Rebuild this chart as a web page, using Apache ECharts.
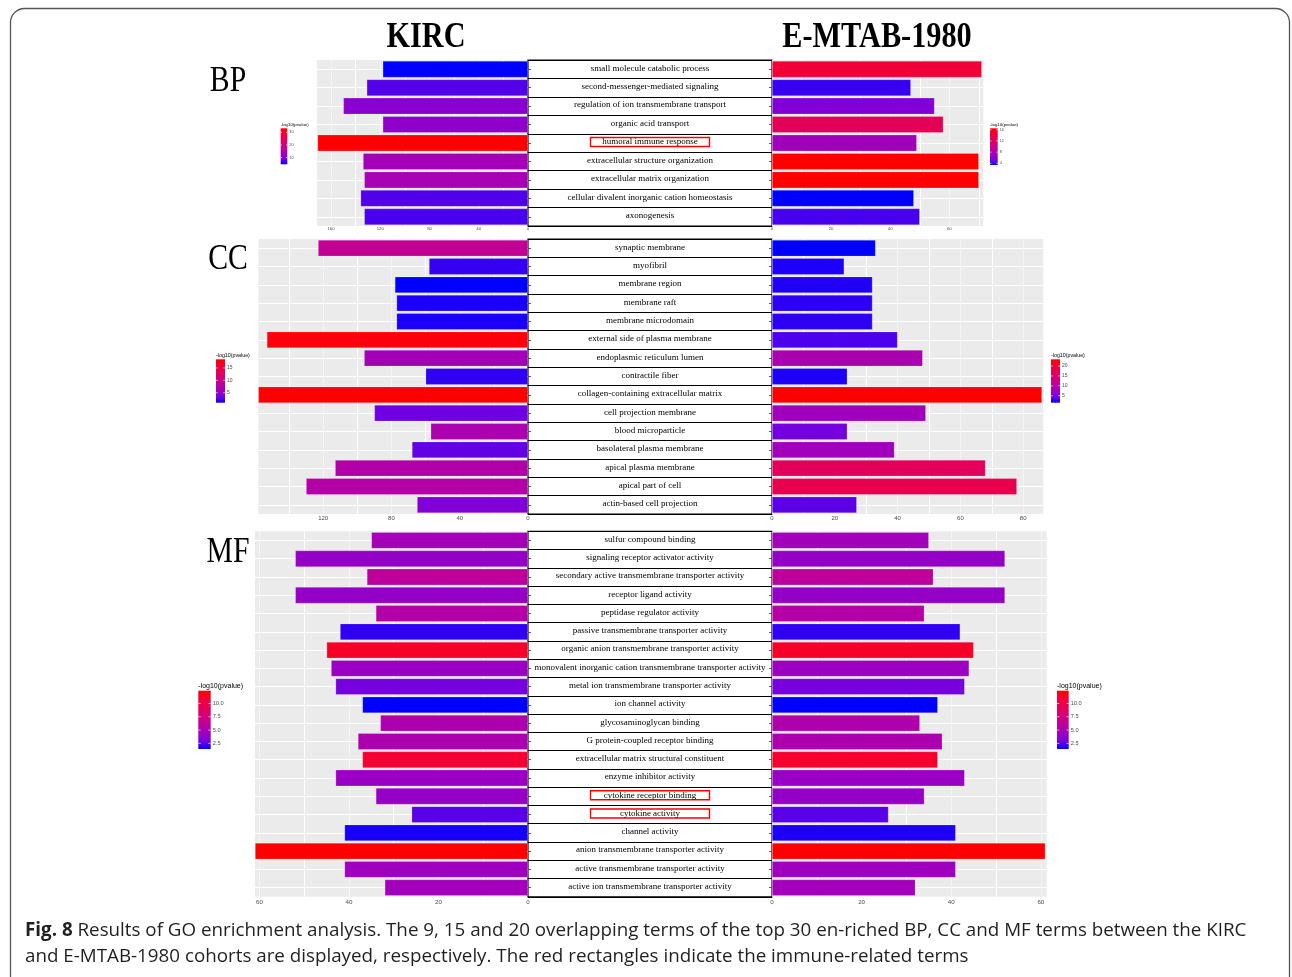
<!DOCTYPE html>
<html><head><meta charset="utf-8">
<script src="https://cdn.jsdelivr.net/npm/echarts@6/dist/echarts.min.js"></script>
<style>html,body{margin:0;padding:0;background:#fff;}#c{width:1292px;height:977px;}</style>
</head><body><div id="c"></div>
<script>
// ---------------- DATA ----------------
const BP_terms = ['small molecule catabolic process','second-messenger-mediated signaling','regulation of ion transmembrane transport','organic acid transport','humoral immune response','extracellular structure organization','extracellular matrix organization','cellular divalent inorganic cation homeostasis','axonogenesis'];
const BP_KIRC_value = [118, 131, 150, 118, 171, 134, 133, 136, 133];
const BP_KIRC_logp  = [4.7, 7.3, 10.4, 11.0, 33.2, 13.2, 13.5, 7.2, 7.0];
const BP_EMTAB_value = [71, 47, 55, 58, 49, 70, 70, 48, 50];
const BP_EMTAB_logp  = [14.5, 4.2, 5.6, 12.8, 7.1, 16.5, 16.5, 3.4, 4.4];
const BP_KIRC_axisTicks = [0, 40, 80, 120, 160];
const BP_EMTAB_axisTicks = [0, 20, 40, 60];
const BP_KIRC_legendTicks = [10, 20, 30];
const BP_EMTAB_legendTicks = [4, 8, 12, 16];

const CC_terms = ['synaptic membrane','myofibril','membrane region','membrane raft','membrane microdomain','external side of plasma membrane','endoplasmic reticulum lumen','contractile fiber','collagen-containing extracellular matrix','cell projection membrane','blood microparticle','basolateral plasma membrane','apical plasma membrane','apical part of cell','actin-based cell projection'];
const CC_KIRC_value = [123, 58, 78, 77, 77, 153, 96, 60, 158, 90, 57, 68, 113, 130, 65];
const CC_KIRC_logp  = [8.9, 2.0, 1.0, 1.5, 1.5, 18.0, 6.2, 1.9, 18.5, 3.1, 6.9, 2.9, 7.3, 7.5, 4.0];
const CC_EMTAB_value = [33, 23, 32, 32, 32, 40, 48, 24, 86, 49, 24, 39, 68, 78, 27];
const CC_EMTAB_logp  = [1.5, 2.2, 2.3, 2.6, 2.6, 3.3, 8.7, 2.2, 23.4, 7.6, 4.3, 7.6, 16.8, 17.9, 3.7];
const CC_KIRC_axisTicks = [0, 40, 80, 120];
const CC_EMTAB_axisTicks = [0, 20, 40, 60, 80];
const CC_KIRC_legendTicks = [5, 10, 15];
const CC_EMTAB_legendTicks = [5, 10, 15, 20];

const MF_terms = ['sulfur compound binding','signaling receptor activator activity','secondary active transmembrane transporter activity','receptor ligand activity','peptidase regulator activity','passive transmembrane transporter activity','organic anion transmembrane transporter activity','monovalent inorganic cation transmembrane transporter activity','metal ion transmembrane transporter activity','ion channel activity','glycosaminoglycan binding','G protein-coupled receptor binding','extracellular matrix structural constituent','enzyme inhibitor activity','cytokine receptor binding','cytokine activity','channel activity','anion transmembrane transporter activity','active transmembrane transporter activity','active ion transmembrane transporter activity'];
const MF_KIRC_value = [35, 52, 36, 52, 34, 42, 45, 44, 43, 37, 33, 38, 37, 43, 34, 26, 41, 61, 41, 32];
const MF_KIRC_logp  = [4.7, 4.0, 6.0, 4.0, 5.5, 2.0, 11.3, 4.2, 2.9, 1.44, 5.1, 5.1, 11.0, 4.2, 4.0, 2.5, 1.7, 12.4, 4.4, 4.6];
const MF_EMTAB_value = [35, 52, 36, 52, 34, 42, 45, 44, 43, 37, 33, 38, 37, 43, 34, 26, 41, 61, 41, 32];
const MF_EMTAB_logp  = [4.6, 4.0, 6.0, 4.0, 5.5, 2.0, 11.3, 4.3, 2.9, 1.44, 5.2, 5.1, 11.1, 4.2, 4.0, 2.5, 1.8, 12.4, 4.4, 4.6];
const MF_axisTicks = [0, 20, 40, 60];
const MF_legendTicks = [2.5, 5.0, 7.5, 10.0];
const MF_legendLabels = ['2.5', '5.0', '7.5', '10.0'];

const immune_terms = ['humoral immune response', 'cytokine receptor binding', 'cytokine activity'];
const cohortTitles = ['KIRC', 'E-MTAB-1980'];
const legendTitle = '-log10(pvalue)';
const captionLine1 = ' Results of GO enrichment analysis. The 9, 15 and 20 overlapping terms of the top 30 en-riched BP, CC and MF terms between the KIRC';
const captionLine2 = 'and E-MTAB-1980 cohorts are displayed, respectively. The red rectangles indicate the immune-related terms';

// ---------------- STYLE / LAYOUT ----------------
const STOPS = ['#0000FF','#7300E0','#9A00C3','#B500A5','#CA0089','#DA006C','#E8004F','#F40031','#FF0000'];
const panels = [
  {name:'BP', terms:BP_terms,
   L:{v:BP_KIRC_value, p:BP_KIRC_logp, ticks:BP_KIRC_axisTicks, lt:BP_KIRC_legendTicks, ll:BP_KIRC_legendTicks.map(String)},
   R:{v:BP_EMTAB_value, p:BP_EMTAB_logp, ticks:BP_EMTAB_axisTicks, lt:BP_EMTAB_legendTicks, ll:BP_EMTAB_legendTicks.map(String)}},
  {name:'CC', terms:CC_terms,
   L:{v:CC_KIRC_value, p:CC_KIRC_logp, ticks:CC_KIRC_axisTicks, lt:CC_KIRC_legendTicks, ll:CC_KIRC_legendTicks.map(String)},
   R:{v:CC_EMTAB_value, p:CC_EMTAB_logp, ticks:CC_EMTAB_axisTicks, lt:CC_EMTAB_legendTicks, ll:CC_EMTAB_legendTicks.map(String)}},
  {name:'MF', terms:MF_terms,
   L:{v:MF_KIRC_value, p:MF_KIRC_logp, ticks:MF_axisTicks, lt:MF_legendTicks, ll:MF_legendLabels},
   R:{v:MF_EMTAB_value, p:MF_EMTAB_logp, ticks:MF_axisTicks, lt:MF_legendTicks, ll:MF_legendLabels}}
];
const geom = [
  {top:60, h:166, lx:317, rx:983.3, maxL:171.4, maxR:71.5, axFont:4.3, axMargin:0.8, lgFont:3.8, lgTitle:4.4,
   legL:[280.7,128.3,6.6,36], legR:[990,128.3,7.7,36.7], label:[228,81.5]},
  {top:239, h:275, lx:258.3, rx:1043.3, maxL:158, maxR:86.4, axFont:6, axMargin:1, lgFont:5, lgTitle:5.3,
   legL:[216,359.3,9,43.4], legR:[1051,359.3,9,43.4], label:[228,259.5]},
  {top:531.3, h:365.5, lx:255, rx:1046.7, maxL:61, maxR:61.3, axFont:6.2, axMargin:2, lgFont:5.7, lgTitle:7,
   legL:[198.3,690.7,12.4,58.3], legR:[1057,690.7,11.7,58.3], label:[228,552.5]}
];
const CX0 = 528, CX1 = 772;

const grids = [], xAxes = [], yAxes = [], series = [], vms = [], graphics = [];

function valueAxis(gi, inverse, max, ticks, font, margin) {
  const step = (ticks[1] - ticks[0]) / 2;
  return {type:'value', gridIndex:gi, inverse, min:0, max, interval:step,
    axisLine:{show:false}, axisTick:{show:false},
    axisLabel:{fontSize:font, color:'#4D4D4D', margin, fontFamily:'Liberation Sans',
      formatter: v => ticks.indexOf(v) >= 0 ? String(v) : ''},
    splitLine:{show:true, showMinLine:false, showMaxLine:false, lineStyle:{color:['#FFFFFF','#F5F5F5'], width:1}}};
}
function catAxis(gi, terms, pos) {
  return {type:'category', gridIndex:gi, data:terms, inverse:true, position:pos,
    axisLine:{show:false},
    axisTick:{show:true, alignWithLabel:true, length:3, lineStyle:{color:'#333', width:0.8}},
    axisLabel:{show:false},
    splitLine:{show:true, alignWithLabel:true, lineStyle:{color:'#FFFFFF', width:1}}};
}
function addBar(gi, S, terms) {
  series.push({type:'bar', xAxisIndex:gi, yAxisIndex:gi, barWidth:'90%', silent:true, animation:false,
    data: terms.map((t, i) => [S.v[i], t, S.p[i]]), encode:{x:0, y:1},
    itemStyle:{borderColor:'rgba(255,255,255,0.35)', borderWidth:0.6}});
  vms.push({type:'continuous', show:false, seriesIndex:series.length - 1, dimension:2,
    min:Math.min(...S.p), max:Math.max(...S.p), inRange:{color:STOPS}});
}
function addLegend(S, box, G) {
  const [x, y, w, h] = box;
  const mn = Math.min(...S.p), mx = Math.max(...S.p);
  graphics.push({type:'text', x:x, y:y - 1.2, silent:true,
    style:{text:legendTitle, fontSize:G.lgTitle, fontFamily:'Liberation Sans', fill:'#000', align:'left', verticalAlign:'bottom'}});
  graphics.push({type:'rect', silent:true, shape:{x, y, width:w, height:h},
    style:{fill:new echarts.graphic.LinearGradient(0, 0, 0, 1,
      STOPS.slice().reverse().map((c, i) => ({offset:i / (STOPS.length - 1), color:c})))}});
  S.lt.forEach((t, i) => {
    const ty = y + (mx - t) / (mx - mn) * h;
    graphics.push({type:'text', x:x + w + 2, y:ty, silent:true,
      style:{text:S.ll[i], fontSize:G.lgFont, fontFamily:'Liberation Sans', fill:'#4D4D4D', align:'left', verticalAlign:'middle'}});
    graphics.push({type:'line', silent:true, shape:{x1:x, y1:ty, x2:x + w * 0.2, y2:ty}, style:{stroke:'#fff', lineWidth:0.6}});
    graphics.push({type:'line', silent:true, shape:{x1:x + w * 0.8, y1:ty, x2:x + w, y2:ty}, style:{stroke:'#fff', lineWidth:0.6}});
  });
}

panels.forEach((P, pi) => {
  const G = geom[pi];
  // KIRC (left)
  let gi = grids.length;
  grids.push({left:G.lx, top:G.top, width:CX0 - G.lx, height:G.h, show:true, backgroundColor:'#EBEBEB', borderWidth:0, outerBoundsMode:'none'});
  xAxes.push(valueAxis(gi, true, G.maxL, P.L.ticks, G.axFont, G.axMargin));
  yAxes.push(catAxis(gi, P.terms, 'right'));
  addBar(gi, P.L, P.terms);
  addLegend(P.L, G.legL, G);
  // center labels
  gi = grids.length;
  grids.push({left:CX0, top:G.top, width:CX1 - CX0, height:G.h, show:true, backgroundColor:'#FFFFFF', borderColor:'#000', borderWidth:1.2, outerBoundsMode:'none'});
  xAxes.push({type:'value', gridIndex:gi, show:false, min:0, max:1});
  yAxes.push({type:'category', gridIndex:gi, data:P.terms, inverse:true, position:'left',
    axisLine:{show:false}, axisTick:{show:false},
    splitLine:{show:true, lineStyle:{color:'#000', width:1.1}},
    axisLabel:{inside:true, margin:(CX1 - CX0) / 2, align:'center', interval:0, padding:[0, 0, 2, 0],
      fontFamily:'Liberation Serif', fontSize:9, color:'#000',
      formatter: v => immune_terms.indexOf(v) >= 0 ? '{hl|' + v + '}' : v,
      rich:{hl:{width:119, height:9, align:'center', borderColor:'#FF0000', borderWidth:1.4,
        fontFamily:'Liberation Serif', fontSize:9, color:'#000'}}}});
  // E-MTAB-1980 (right)
  gi = grids.length;
  grids.push({left:CX1, top:G.top, width:G.rx - CX1, height:G.h, show:true, backgroundColor:'#EBEBEB', borderWidth:0, outerBoundsMode:'none'});
  xAxes.push(valueAxis(gi, false, G.maxR, P.R.ticks, G.axFont, G.axMargin));
  yAxes.push(catAxis(gi, P.terms, 'left'));
  addBar(gi, P.R, P.terms);
  addLegend(P.R, G.legR, G);
  // panel label
  graphics.push({type:'text', x:G.label[0], y:G.label[1], scaleX:0.85, silent:true,
    style:{text:P.name, font:'35px "Liberation Serif"', fill:'#000', align:'center', verticalAlign:'middle'}});
});

// titles
graphics.push({type:'text', x:426, y:38, scaleX:0.865, silent:true,
  style:{text:cohortTitles[0], font:'bold 35px "Liberation Serif"', fill:'#000', align:'center', verticalAlign:'middle'}});
graphics.push({type:'text', x:877, y:38, scaleX:0.865, silent:true,
  style:{text:cohortTitles[1], font:'bold 35px "Liberation Serif"', fill:'#000', align:'center', verticalAlign:'middle'}});
// frame
graphics.push({type:'rect', silent:true, z:-10, shape:{x:10.5, y:8.5, width:1279, height:1000, r:14},
  style:{fill:'none', stroke:'#555', lineWidth:1.3}});
// caption
graphics.push({type:'text', x:25, y:931, silent:true,
  style:{text:'{b|Fig. 8}' + captionLine1, fontSize:18.8, fontFamily:'Open Sans', fill:'#231F20', align:'left', verticalAlign:'middle',
    rich:{b:{fontWeight:'bold', fontSize:18.8, fontFamily:'Open Sans', fill:'#231F20'}}}});
graphics.push({type:'text', x:25, y:957, silent:true,
  style:{text:captionLine2, fontSize:18.8, fontFamily:'Open Sans', fill:'#231F20', align:'left', verticalAlign:'middle'}});

const chart = echarts.init(document.getElementById('c'), null, {renderer:'canvas'});
chart.setOption({
  animation:false,
  backgroundColor:'#FFFFFF',
  grid:grids, xAxis:xAxes, yAxis:yAxes, series, visualMap:vms,
  graphic:{elements:graphics}
});
</script>
</body></html>
